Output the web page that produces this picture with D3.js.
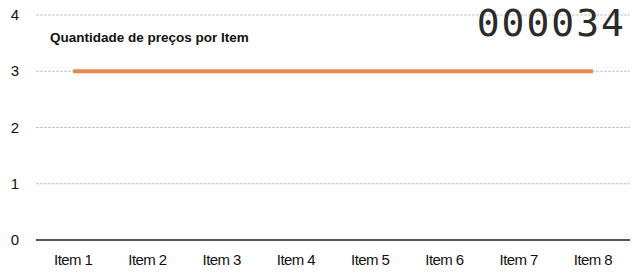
<!DOCTYPE html>
<html>
<head>
<meta charset="utf-8">
<script src="https://cdn.jsdelivr.net/npm/d3@7"></script>
<style>
  body { margin: 0; background: #fff; }
  text { font-family: "Liberation Sans", Arial, sans-serif; }
</style>
</head>
<body>
<div id="chart"></div>
<script>
const categories = ["Item 1", "Item 2", "Item 3", "Item 4", "Item 5", "Item 6", "Item 7", "Item 8"];
const priceCounts = [3, 3, 3, 3, 3, 3, 3, 3];
const yTicks = [0, 1, 2, 3, 4];
const chartTitle = "Quantidade de preços por Item";
const stampText = "000034";

const width = 638;
const height = 278;
const margin = { top: 15, right: 8, bottom: 38, left: 36 };

const svg = d3.select("#chart")
    .append("svg")
    .attr("width", width)
    .attr("height", height)
    .attr("viewBox", [0, 0, width, height]);

const x = d3.scaleBand()
    .domain(categories)
    .range([margin.left, width - margin.right]);

const y = d3.scaleLinear()
    .domain([0, 4])
    .range([height - margin.bottom, margin.top]);

// gridlines
svg.append("g")
    .selectAll("line")
    .data(yTicks.filter((t) => t > 0))
    .join("line")
    .attr("x1", margin.left)
    .attr("x2", width - margin.right)
    .attr("y1", (t) => y(t))
    .attr("y2", (t) => y(t))
    .attr("stroke", "#c4c4c4")
    .attr("stroke-width", 1)
    .attr("stroke-dasharray", "3,1");

// baseline
svg.append("line")
    .attr("x1", margin.left)
    .attr("x2", width - margin.right)
    .attr("y1", y(0))
    .attr("y2", y(0))
    .attr("stroke", "#555")
    .attr("stroke-width", 2);

// y tick labels
svg.append("g")
    .selectAll("text")
    .data(yTicks)
    .join("text")
    .attr("x", 15)
    .attr("y", (t) => y(t) + 5)
    .attr("text-anchor", "middle")
    .attr("fill", "#111")
    .style("font-size", "15px")
    .text((t) => t);

// x labels
svg.append("g")
    .selectAll("text")
    .data(categories)
    .join("text")
    .attr("x", (c) => x(c) + x.bandwidth() / 2)
    .attr("y", y(0) + 25)
    .attr("text-anchor", "middle")
    .attr("fill", "#111")
    .style("font-size", "15px")
    .style("letter-spacing", "-0.6px")
    .text((c) => c);

// line
const line = d3.line()
    .x((d, i) => x(categories[i]) + x.bandwidth() / 2)
    .y((d) => y(d));

svg.append("path")
    .datum(priceCounts)
    .attr("fill", "none")
    .attr("stroke", "#e8884c")
    .attr("stroke-width", 4)
    .attr("d", line);

// title
svg.append("text")
    .attr("x", 50)
    .attr("y", 42)
    .attr("fill", "#111")
    .style("font-size", "13.5px")
    .style("font-weight", "bold")
    .text(chartTitle);

// stamp number
svg.append("text")
    .attr("x", 626)
    .attr("y", 36)
    .attr("text-anchor", "end")
    .attr("fill", "#2a2a2a")
    .style("font-family", "'DejaVu Sans Mono', monospace")
    .style("font-size", "38px")
    .style("letter-spacing", "2px")
    .text(stampText);
</script>
</body>
</html>
